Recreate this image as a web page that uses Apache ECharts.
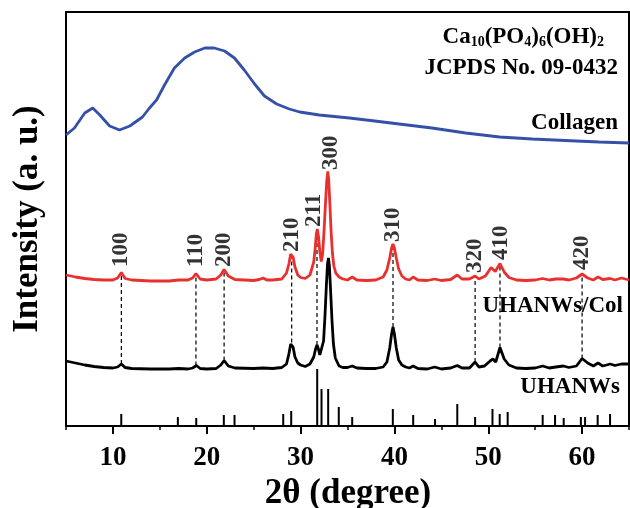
<!DOCTYPE html>
<html><head><meta charset="utf-8">
<script src="https://cdn.jsdelivr.net/npm/echarts@6/dist/echarts.min.js"></script>
<style>html,body{margin:0;padding:0;background:#fff}#c{width:630px;height:508px}</style>
</head><body><div id="c"></div>
<script>
// 2θ (degree) vs intensity (arbitrary, stacked offsets)
const collagen = [[5,291],[5.9,298],[7,313],[7.85,318],[8.6,311],[9.65,300],[10.7,296],[11.8,300],[13.15,309],[13.9,318],[14.65,326],[15.5,341],[16.55,358],[17.65,368],[18.7,374],[19.8,378],[20.8,378],[21.9,375],[22.95,368],[24,356],[25.1,342],[26.15,330],[27.45,322],[28.8,317],[29.9,314],[32,311],[35.2,308],[37.9,305],[40.5,302],[44,298],[47.6,293],[51.2,289],[54.7,287],[58.2,285.5],[61.8,284],[65,283]];

const composite = [[5,151],[6,149],[7,147.5],[8,146.5],[9,146],[10,146],[10.5,148],[10.9,153.5],[11.3,147.5],[12,146],[14,145],[16,145],[17,146],[18,146],[18.5,148],[18.85,152.5],[19.3,147],[20,146],[21,147],[21.5,151],[21.85,156.5],[22.3,150],[23,146.5],[24,146],[25,145.5],[25.6,146.5],[26,148],[26.4,146],[27,146],[28,147],[28.5,153],[28.75,162],[28.95,172],[29.05,173.5],[29.2,169],[29.4,159],[29.7,151],[30,148.5],[30.5,147.5],[31,151],[31.4,164],[31.55,177],[31.68,192],[31.78,197],[31.9,190],[32.05,175],[32.2,164.5],[32.35,172],[32.5,195],[32.65,222],[32.78,244],[32.9,254.5],[33.0,246],[33.12,222],[33.25,195],[33.4,172],[33.55,160],[33.75,153],[34.1,149],[34.5,147],[35,146],[35.5,149],[36,146],[37,145.5],[38,146],[38.8,149],[39.2,156],[39.5,168],[39.7,178],[39.85,182],[40.0,178],[40.2,168],[40.45,157],[40.8,150],[41.2,147],[41.6,146],[42,149],[42.5,146],[43.5,145.5],[44.3,147],[45,145.5],[46,146.5],[46.7,151],[47.2,147],[48,147],[48.6,150],[49,147],[49.7,150],[50.3,158.5],[50.75,154.5],[51.25,162.5],[51.7,154],[52.2,148.5],[53,146],[54,145.5],[55,146],[55.8,147.5],[56.5,146],[57.2,147],[58,147],[58.6,146],[59.4,148],[60,152],[60.6,148],[61.2,146],[61.7,149],[62.2,146.5],[63,147.5],[63.5,146],[64.2,148],[65,146]];

const uhanws = [[5,65],[6,63],[7,61],[8,59.5],[9,58.5],[10,58],[10.5,59],[10.9,62],[11.3,58.5],[12,57.5],[14,57],[16,57],[17,57.5],[18,57],[18.5,58],[18.9,60.5],[19.3,57.5],[20,57],[21,57.5],[21.5,61],[21.85,65.5],[22.3,60],[23,58],[25,57.5],[26,58],[27,57.5],[28,58.5],[28.5,62],[28.75,72],[28.95,82],[29.05,83.5],[29.2,79],[29.4,69],[29.7,63],[30,61],[30.5,59.5],[31,62],[31.4,69],[31.6,77],[31.75,81],[31.9,77],[32.05,71],[32.25,70],[32.45,85],[32.6,110],[32.75,141],[32.87,162],[32.97,168],[33.07,160],[33.2,135],[33.35,105],[33.5,82],[33.7,68],[34.1,60],[34.5,58.5],[35,58.5],[35.5,60],[36,58],[37,57.5],[38,57.5],[38.8,59],[39.2,64],[39.5,78],[39.7,92],[39.85,99],[40.0,92],[40.2,78],[40.45,66],[40.8,61],[41.2,59],[41.6,58],[42,60],[42.5,57.5],[43.5,57],[44.3,59],[45,57],[46,58],[46.7,60.5],[47.2,58],[48,58],[48.6,64],[49,59],[49.6,60],[50.2,65],[50.5,67],[50.8,64],[51.25,78.5],[51.7,67],[52.2,61],[53,58],[54,57.5],[55,58],[55.8,60],[56.5,58],[57.2,59],[58,60],[58.6,58.5],[59.4,60],[60,67.5],[60.6,63],[61.2,60],[61.7,63],[62.2,60],[63,62],[63.5,60.5],[64.2,62],[65,62]];

// JCPDS 09-0432 reference sticks
const stickPos    = [10.89,16.92,18.88,21.82,22.96,28.15,29.0,31.77,32.23,32.94,34.07,35.5,39.83,42.0,44.33,46.7,48.6,50.45,51.22,52.07,55.8,57.12,58.04,59.87,60.32,61.66,62.98];
const stickHeight = [12,9,8,11,11,12,15,57,37,37,19,9,17,11,7,22,9,17,12,14,11,11,8,9,9,11,12];

// hkl peak labels
const peakNames = ['100','110','200','210','211','300','310','320','410','420'];
const peakLabelX = [10.9,18.85,21.85,29.05,31.4,33.2,39.9,48.6,51.4,60.0];
const peakLabelY = [159,159,159,174,199,256,184,153,166,156];

// dashed guide lines
const dashX    = [10.9,18.85,21.85,29.05,31.75,39.85,48.6,51.25,60.0];
const dashLow  = [62,60.5,65.5,83.5,81,99,64,78.5,67.5];
const dashHigh = [150,150,154,171,195,180,150,160,150];

const xMajorTicks = [10,20,30,40,50,60];

const F = '"Liberation Serif","Times New Roman",serif';
const chart = echarts.init(document.getElementById('c'));
const axLine = {show:true, lineStyle:{color:'#000', width:2}};
chart.setOption({
  animation:false,
  grid:{left:66, right:1, top:12, bottom:82},
  xAxis:[
    {type:'value', min:5, max:65, position:'bottom', axisLine:axLine,
     axisTick:{show:true, customValues:xMajorTicks, length:8, lineStyle:{color:'#000', width:2}},
     axisLabel:{customValues:xMajorTicks, fontFamily:F, fontWeight:'bold', fontSize:27, color:'#000', margin:19},
     splitLine:{show:false}},
    {type:'value', min:5, max:65, interval:5, position:'bottom', axisLine:{show:false},
     axisTick:{show:true, length:4, lineStyle:{color:'#000', width:1.5}},
     axisLabel:{show:false}, splitLine:{show:false}},
    {type:'value', min:5, max:65, position:'top', axisLine:axLine,
     axisTick:{show:false}, axisLabel:{show:false}, splitLine:{show:false}}
  ],
  yAxis:[
    {type:'value', min:0, max:414, position:'left', axisLine:axLine, axisTick:{show:false}, axisLabel:{show:false}, splitLine:{show:false}},
    {type:'value', min:0, max:414, position:'right', axisLine:axLine, axisTick:{show:false}, axisLabel:{show:false}, splitLine:{show:false}}
  ],
  series:[
    {type:'line', data:collagen, showSymbol:false, lineStyle:{color:'#3550a8', width:2.8}, z:3},
    {type:'line', data:uhanws, showSymbol:false, lineStyle:{color:'#000', width:2.8}, z:3},
    {type:'line', data:composite, showSymbol:false, lineStyle:{color:'#e8302f', width:2.8}, z:4},
    {type:'custom', data:stickPos.map((p,i)=>[p, stickHeight[i]]), encode:{x:0,y:1}, z:5,
     renderItem:(params, api)=>{
       const a = api.coord([api.value(0), 0]);
       const b = api.coord([api.value(0), api.value(1)]);
       return {type:'line', shape:{x1:a[0], y1:a[1], x2:b[0], y2:b[1]}, style:{stroke:'#000', lineWidth:2}};
     }},
    {type:'custom', data:dashX.map((p,i)=>[p, dashLow[i], dashHigh[i]]), encode:{x:0,y:[1,2]}, z:2,
     renderItem:(params, api)=>{
       const a = api.coord([api.value(0), api.value(1)]);
       const b = api.coord([api.value(0), api.value(2)]);
       return {type:'line', shape:{x1:a[0], y1:a[1], x2:b[0], y2:b[1]}, style:{stroke:'#000', lineWidth:1.2, lineDash:[4,3]}};
     }},
    {type:'scatter', symbolSize:0, z:6,
     data:peakNames.map((n,i)=>({name:n, value:[peakLabelX[i], peakLabelY[i]]})),
     label:{show:true, formatter:'{b}', position:[0,0], rotate:90, align:'left', verticalAlign:'middle',
            fontFamily:F, fontWeight:'bold', fontSize:23, color:'#000'}}
  ],
  graphic:[
    {type:'text', x:28, y:219, rotation:Math.PI/2,
     style:{text:'Intensity (a. u.)', font:'bold 35px '+F, fill:'#000', textAlign:'center', textVerticalAlign:'middle'}},
    {type:'text', x:348, y:494,
     style:{text:'2θ (degree)', font:'bold 35px '+F, fill:'#000', textAlign:'center', textVerticalAlign:'middle'}},
    {type:'text', x:604, y:37,
     style:{text:'{n|Ca}{s|10}{n|(PO}{s|4}{n|)}{s|6}{n|(OH)}{s|2}', align:'right', verticalAlign:'middle',
            rich:{n:{fontFamily:F, fontWeight:'bold', fontSize:23, lineHeight:24, fill:'#000', color:'#000'},
                  s:{fontFamily:F, fontWeight:'bold', fontSize:14, lineHeight:8, verticalAlign:'bottom', fill:'#000', color:'#000'}}}},
    {type:'text', x:618, y:68,
     style:{text:'JCPDS No. 09-0432', font:'bold 23px '+F, fill:'#000', textAlign:'right', textVerticalAlign:'middle'}},
    {type:'text', x:618, y:123,
     style:{text:'Collagen', font:'bold 23px '+F, fill:'#000', textAlign:'right', textVerticalAlign:'middle'}},
    {type:'text', x:623, y:306,
     style:{text:'UHANWs/Col', font:'bold 23px '+F, fill:'#000', textAlign:'right', textVerticalAlign:'middle'}},
    {type:'text', x:620, y:387,
     style:{text:'UHANWs', font:'bold 23px '+F, fill:'#000', textAlign:'right', textVerticalAlign:'middle'}}
  ]
});
</script></body></html>
